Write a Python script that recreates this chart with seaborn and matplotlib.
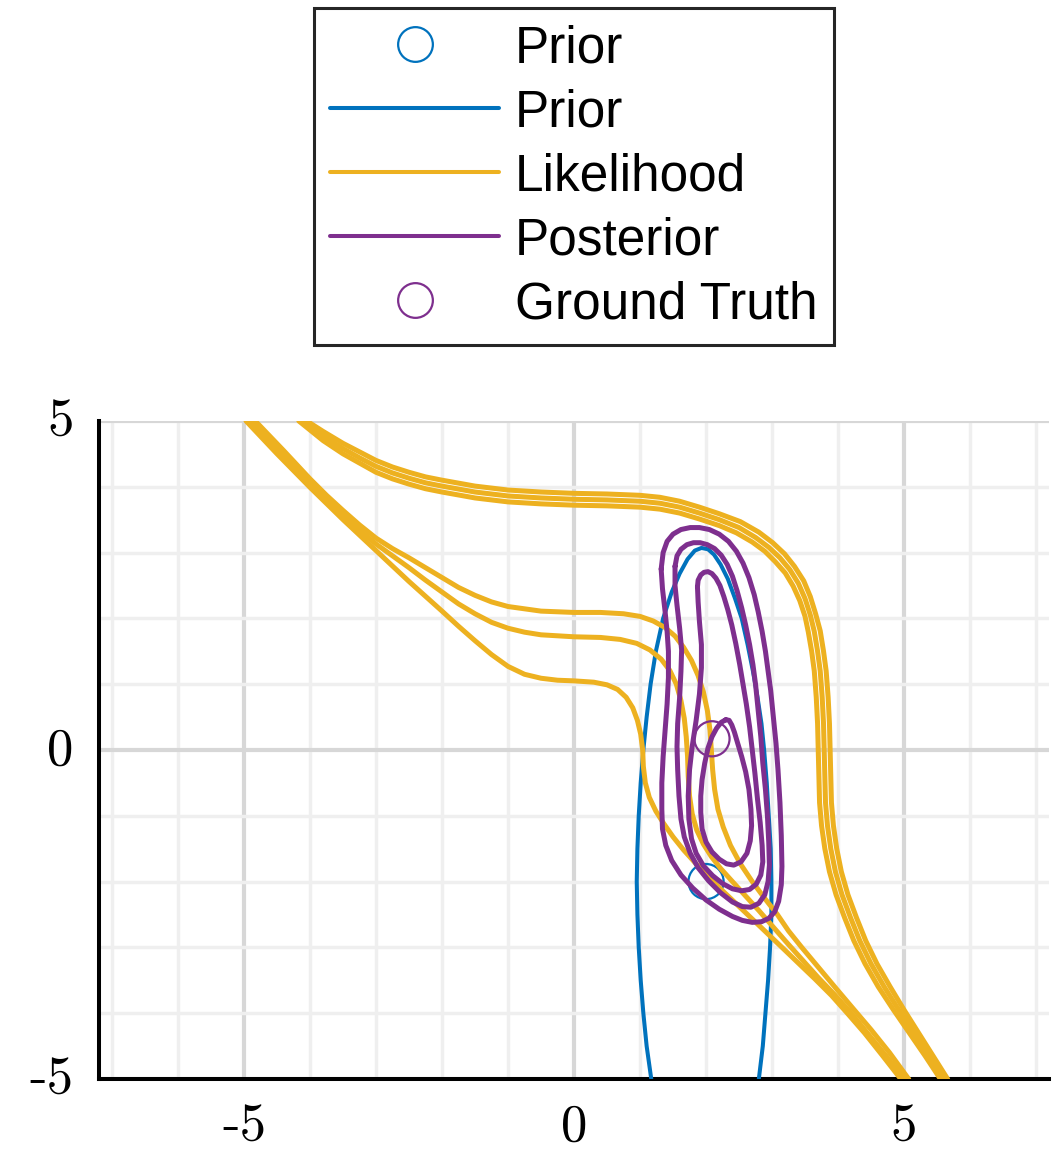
import matplotlib.pyplot as plt
import matplotlib.transforms as mtransforms
import seaborn as sns
from matplotlib.lines import Line2D

# marker positions
prior_mean = (2.0, -2.0)
ground_truth = (2.09, 0.17)

# prior contour (open at the bottom edge)
prior_x = [1.17, 1.1, 1.05, 1.01, 0.98, 0.96, 0.95, 0.96, 0.98, 1.01, 1.05, 1.1, 1.16, 1.24, 1.35,
           1.48, 1.6, 1.72, 1.83, 1.93, 2.03, 2.12, 2.22, 2.33, 2.44, 2.54, 2.63, 2.71, 2.78, 2.84,
           2.88, 2.92, 2.95, 2.98, 2.99, 2.99, 2.97, 2.94, 2.9, 2.86, 2.8]
prior_y = [-5.0, -4.5, -4.0, -3.5, -3.0, -2.5, -2.0, -1.5, -1.0, -0.5, 0.0, 0.5, 1.0, 1.5, 2.0,
           2.4, 2.68, 2.9, 3.03, 3.07, 3.05, 2.97, 2.82, 2.6, 2.3, 2.0, 1.6, 1.2, 0.8, 0.4,
           0.0, -0.5, -1.0, -1.5, -2.0, -2.5, -3.0, -3.5, -4.0, -4.5, -5.0]

# likelihood contours, upper bundle (outer / middle / inner)
lik_a1_x = [-4.05, -3.8, -3.5, -3.25, -3.0, -2.75, -2.5, -2.25, -2.0, -1.5, -1.0, -0.5, 0.0, 0.5,
            1.0, 1.3, 1.6, 1.9, 2.2, 2.52, 2.8, 3.01, 3.19, 3.34, 3.48, 3.58, 3.66, 3.73, 3.78,
            3.82, 3.85, 3.87, 3.88, 3.89, 3.9, 3.93, 3.98, 4.05, 4.15, 4.28, 4.42, 4.59, 4.79,
            5.0, 5.22, 5.44, 5.66]
lik_a1_y = [5.0, 4.84, 4.66, 4.53, 4.4, 4.3, 4.22, 4.15, 4.1, 4.01, 3.95, 3.92, 3.9, 3.89,
            3.87, 3.84, 3.78, 3.69, 3.59, 3.47, 3.31, 3.15, 2.98, 2.79, 2.57, 2.33, 2.07, 1.81, 1.5,
            1.2, 0.8, 0.4, 0.0, -0.4, -0.8, -1.15, -1.5, -1.85, -2.2, -2.55, -2.9, -3.25, -3.6,
            -3.95, -4.3, -4.65, -5.0]
lik_a2_x = [-4.11, -3.8, -3.5, -3.25, -3.0, -2.75, -2.5, -2.25, -2.0, -1.5, -1.0, -0.5, 0.0, 0.5,
            1.0, 1.3, 1.6, 1.9, 2.2, 2.5, 2.75, 2.95, 3.12, 3.27, 3.4, 3.5, 3.58, 3.64, 3.69,
            3.73, 3.76, 3.78, 3.79, 3.8, 3.81, 3.84, 3.89, 3.96, 4.06, 4.19, 4.33, 4.5, 4.7,
            4.92, 5.15, 5.38, 5.6]
lik_a2_y = [5.0, 4.77, 4.58, 4.44, 4.31, 4.21, 4.13, 4.06, 4.01, 3.92, 3.86, 3.83, 3.81, 3.8,
            3.78, 3.75, 3.69, 3.6, 3.5, 3.38, 3.23, 3.08, 2.92, 2.74, 2.53, 2.3, 2.05, 1.8, 1.5,
            1.2, 0.8, 0.4, 0.0, -0.4, -0.8, -1.15, -1.5, -1.85, -2.2, -2.55, -2.9, -3.25, -3.6,
            -3.95, -4.3, -4.65, -5.0]
lik_a3_x = [-4.17, -3.8, -3.5, -3.25, -3.0, -2.75, -2.5, -2.25, -2.0, -1.5, -1.0, -0.5, 0.0, 0.5,
            1.0, 1.3, 1.6, 1.9, 2.2, 2.46, 2.7, 2.89, 3.05, 3.2, 3.32, 3.42, 3.5, 3.55, 3.6,
            3.64, 3.67, 3.69, 3.7, 3.71, 3.72, 3.75, 3.8, 3.87, 3.97, 4.1, 4.24, 4.41, 4.61,
            4.84, 5.08, 5.32, 5.55]
lik_a3_y = [5.0, 4.7, 4.5, 4.36, 4.22, 4.12, 4.04, 3.97, 3.92, 3.83, 3.77, 3.74, 3.72, 3.71,
            3.69, 3.66, 3.6, 3.51, 3.41, 3.3, 3.16, 3.02, 2.86, 2.69, 2.49, 2.27, 2.03, 1.79, 1.5,
            1.2, 0.8, 0.4, 0.0, -0.4, -0.8, -1.15, -1.5, -1.85, -2.2, -2.55, -2.9, -3.25, -3.6,
            -3.95, -4.3, -4.65, -5.0]

# likelihood contours, lower bundle
lik_b1_x = [-4.83, -4.4, -4.0, -3.75, -3.5, -3.25, -3.0, -2.75, -2.5, -2.25, -2.0, -1.75, -1.5,
            -1.25, -1.0, -0.5, 0.0, 0.4, 0.75, 1.0, 1.2, 1.38, 1.53, 1.66, 1.78, 1.88, 1.96, 2.02,
            2.06, 2.08, 2.1, 2.13, 2.18, 2.26, 2.37, 2.52, 2.7, 2.9, 3.08, 3.25, 3.45, 3.7, 3.95,
            4.22, 4.5, 4.78, 5.07]
lik_b1_y = [5.0, 4.55, 4.12, 3.87, 3.64, 3.42, 3.22, 3.06, 2.92, 2.77, 2.62, 2.47, 2.35,
            2.25, 2.18, 2.11, 2.09, 2.09, 2.07, 2.03, 1.96, 1.86, 1.73, 1.56, 1.36, 1.13, 0.88, 0.6,
            0.3, 0.0, -0.3, -0.6, -0.9, -1.17, -1.45, -1.73, -2.0, -2.27, -2.5, -2.75, -3.0, -3.3,
            -3.6, -3.92, -4.25, -4.6, -5.0]
lik_b2_x = [-4.9, -4.45, -4.0, -3.75, -3.5, -3.25, -3.0, -2.75, -2.5, -2.25, -2.0, -1.75, -1.5,
            -1.25, -1.0, -0.75, -0.5, 0.0, 0.4, 0.7, 0.95, 1.15, 1.32, 1.45, 1.55, 1.62, 1.67,
            1.7, 1.72, 1.73, 1.75, 1.79, 1.86, 1.96, 2.08, 2.22, 2.4, 2.6, 2.8, 3.0, 3.2, 3.45,
            3.7, 3.95, 4.2, 4.46, 4.73, 5.0]
lik_b2_y = [5.0, 4.52, 4.05, 3.8, 3.57, 3.34, 3.13, 2.95, 2.77, 2.58, 2.4, 2.22, 2.07,
            1.94, 1.85, 1.79, 1.75, 1.72, 1.71, 1.68, 1.62, 1.52, 1.38, 1.21, 1.0, 0.75, 0.48,
            0.2, -0.1, -0.4, -0.7, -0.97, -1.22, -1.43, -1.62, -1.8, -2.0, -2.22, -2.44, -2.67,
            -2.9, -3.18, -3.46, -3.72, -4.0, -4.32, -4.65, -5.0]
lik_b3_x = [-4.97, -4.5, -4.0, -3.5, -3.0, -2.5, -2.0, -1.75, -1.5, -1.25, -1.0, -0.75, -0.5,
            -0.25, 0.0, 0.3, 0.5, 0.66, 0.79, 0.89, 0.96, 1.01, 1.04, 1.05, 1.08, 1.14, 1.24, 1.36,
            1.5, 1.66, 1.84, 2.03, 2.24, 2.46, 2.68, 2.9, 3.14, 3.4, 3.65, 3.9, 4.14, 4.4, 4.67,
            4.95]
lik_b3_y = [5.0, 4.5, 3.99, 3.5, 3.03, 2.56, 2.11, 1.88, 1.66, 1.45, 1.27, 1.15, 1.09,
            1.06, 1.05, 1.03, 0.99, 0.92, 0.8, 0.64, 0.45, 0.24, 0.0, -0.25, -0.5, -0.72, -0.93,
            -1.12, -1.32, -1.52, -1.72, -1.92, -2.13, -2.34, -2.55, -2.76, -2.99, -3.24, -3.48,
            -3.73, -4.0, -4.3, -4.64, -5.0]

# posterior contours, outermost to innermost (closed)
post1_x = [1.32, 1.35, 1.41, 1.5, 1.62, 1.76, 1.9, 2.05, 2.2, 2.34, 2.46, 2.56, 2.65, 2.73, 2.79,
           2.85, 2.9, 2.94, 2.98, 3.02, 3.06, 3.09, 3.12, 3.14, 3.15, 3.14, 3.1, 3.04, 2.95, 2.84,
           2.7, 2.55, 2.4, 2.2, 2.0, 1.8, 1.62, 1.48, 1.39, 1.34, 1.33, 1.33, 1.35, 1.38, 1.41,
           1.43, 1.43, 1.41, 1.38, 1.34, 1.32]
post1_y = [2.75, 3.0, 3.17, 3.28, 3.35, 3.38, 3.38, 3.35, 3.28, 3.17, 3.02, 2.84, 2.62, 2.36, 2.1,
           1.8, 1.5, 1.2, 0.9, 0.5, 0.1, -0.3, -0.8, -1.3, -1.77, -2.05, -2.3, -2.46, -2.56, -2.61,
           -2.62, -2.59, -2.53, -2.42, -2.28, -2.1, -1.9, -1.68, -1.45, -1.2, -0.9, -0.5, -0.1, 0.3,
           0.7, 1.1, 1.5, 1.8, 2.1, 2.45, 2.75]
post2_x = [1.53, 1.56, 1.62, 1.71, 1.81, 1.91, 2.02, 2.13, 2.23, 2.32, 2.4, 2.47, 2.54, 2.6, 2.66,
           2.71, 2.75, 2.79, 2.83, 2.86, 2.9, 2.93, 2.95, 2.96, 2.94, 2.89, 2.8, 2.68, 2.55, 2.4,
           2.22, 2.04, 1.88, 1.76, 1.67, 1.62, 1.59, 1.57, 1.56, 1.57, 1.6, 1.62, 1.63, 1.6,
           1.56, 1.53, 1.53]
post2_y = [2.79, 2.95, 3.05, 3.12, 3.15, 3.15, 3.12, 3.06, 2.96, 2.82, 2.64, 2.42, 2.16, 1.9, 1.6,
           1.3, 1.0, 0.6, 0.2, -0.2, -0.6, -1.0, -1.4, -1.75, -2.0, -2.2, -2.33, -2.39, -2.38, -2.31,
           -2.17, -1.99, -1.79, -1.57, -1.32, -1.05, -0.7, -0.3, 0.05, 0.4, 0.8, 1.2, 1.52, 1.85,
           2.2, 2.5, 2.79]
post3_x = [1.87, 1.88, 1.92, 1.97, 2.03, 2.09, 2.15, 2.21, 2.27, 2.33, 2.39, 2.45, 2.51, 2.56, 2.61,
           2.66, 2.7, 2.74, 2.78, 2.82, 2.85, 2.86, 2.83, 2.76, 2.66, 2.54, 2.4, 2.25, 2.1, 1.96,
           1.85, 1.78, 1.74, 1.73, 1.75, 1.79, 1.85, 1.9, 1.93, 1.93, 1.9, 1.88, 1.87]
post3_y = [2.48, 2.58, 2.66, 2.7, 2.71, 2.68, 2.61, 2.5, 2.33, 2.13, 1.9, 1.62, 1.3, 1.0, 0.7,
           0.35, 0.0, -0.35, -0.75, -1.1, -1.45, -1.7, -1.9, -2.04, -2.12, -2.14, -2.11, -2.03, -1.91,
           -1.76, -1.57, -1.35, -1.05, -0.7, -0.3, 0.05, 0.45, 0.85, 1.25, 1.6, 1.95, 2.25, 2.48]
post4_x = [2.3, 2.35, 2.39, 2.43, 2.48, 2.54, 2.6, 2.65, 2.68, 2.69, 2.67, 2.62, 2.53, 2.42, 2.31,
           2.2, 2.09, 2.0, 1.94, 1.92, 1.92, 1.94, 1.98, 2.03, 2.09, 2.16, 2.23, 2.3]
post4_y = [0.46, 0.45, 0.38, 0.27, 0.1, -0.1, -0.33, -0.6, -0.9, -1.15, -1.38, -1.57, -1.7, -1.75,
           -1.73, -1.66, -1.55, -1.4, -1.2, -0.95, -0.7, -0.45, -0.2, 0.03, 0.2, 0.33, 0.42, 0.46]

x_ticks = [-5, 0, 5]
y_ticks = [-5, 0, 5]
tick_labels = ["-5", "0", "5"]
legend_labels = ["Prior", "Prior", "Likelihood", "Posterior", "Ground Truth"]

BLUE = "#0072BD"
YELLOW = "#EDB120"
PURPLE = "#7E2F8E"

sns.set_theme(style="white")
plt.rcParams["font.family"] = ["Liberation Sans", "DejaVu Sans"]
plt.rcParams["axes.unicode_minus"] = False
plt.rcParams["text.color"] = "black"
plt.rcParams["xtick.color"] = "black"
plt.rcParams["ytick.color"] = "black"

fig = plt.figure(figsize=(10.56, 11.53), dpi=100)
ax = fig.add_axes([0.0936, 0.0642, 0.9, 0.5707])


def draw(xs, ys, color, lw, z):
    sns.lineplot(x=xs, y=ys, sort=False, estimator=None, color=color,
                 lw=lw, ax=ax, zorder=z, legend=False)


sns.scatterplot(x=[prior_mean[0]], y=[prior_mean[1]], marker="o", s=640,
                facecolor="none", edgecolor=BLUE, linewidth=1.6, ax=ax, zorder=3)
draw(prior_x, prior_y, BLUE, 2.9, 4)
for xs, ys in [(lik_a1_x, lik_a1_y), (lik_a2_x, lik_a2_y), (lik_a3_x, lik_a3_y),
               (lik_b1_x, lik_b1_y), (lik_b2_x, lik_b2_y), (lik_b3_x, lik_b3_y)]:
    draw(xs, ys, YELLOW, 3.6, 5)
for xs, ys in [(post1_x, post1_y), (post2_x, post2_y), (post3_x, post3_y), (post4_x, post4_y)]:
    draw(xs, ys, PURPLE, 3.6, 6)
sns.scatterplot(x=[ground_truth[0]], y=[ground_truth[1]], marker="o", s=640,
                facecolor="none", edgecolor=PURPLE, linewidth=1.6, ax=ax, zorder=7)

ax.set_xlim(-7.2, 7.2)
ax.set_ylim(-5, 5)
ax.set_xticks(x_ticks)
ax.set_yticks(y_ticks)
ax.set_xticks(range(-7, 8), minor=True)
ax.set_yticks(range(-5, 6), minor=True)
ax.set_xticklabels(tick_labels, fontfamily="cmr10", fontsize=38, color="black")
ax.set_yticklabels(tick_labels, fontfamily="cmr10", fontsize=38, color="black")
ax.set_xlabel("")
ax.set_ylabel("")
ax.set_axisbelow(True)
ax.grid(which="major", color="#d7d7d7", lw=3.0)
ax.grid(which="minor", color="#efefef", lw=2.5)
ax.tick_params(which="major", direction="in", length=8.6, width=2.9, color="black")
ax.tick_params(which="minor", length=0)
ax.tick_params(axis="x", pad=18)
ax.tick_params(axis="y", pad=18)
for side in ["top", "right"]:
    ax.spines[side].set_visible(False)
for side in ["left", "bottom"]:
    ax.spines[side].set_color("black")
    ax.spines[side].set_linewidth(2.9)

# nudge y tick labels up a few pixels so the digits sit centred on the ticks
lift = mtransforms.ScaledTranslation(0, 4 / 100, fig.dpi_scale_trans)
for lbl in ax.get_yticklabels():
    lbl.set_transform(lbl.get_transform() + lift)

handles = [
    Line2D([], [], ls="none", marker="o", ms=25, mfc="none", mec=BLUE, mew=1.6),
    Line2D([], [], color=BLUE, lw=2.9),
    Line2D([], [], color=YELLOW, lw=2.9),
    Line2D([], [], color=PURPLE, lw=2.9),
    Line2D([], [], ls="none", marker="o", ms=25, mfc="none", mec=PURPLE, mew=1.6),
]
leg = fig.legend(handles, legend_labels, loc="upper center",
                 bbox_to_anchor=(574 / 1056, 1 - 8 / 1153), fontsize=37,
                 handlelength=3.29, handletextpad=0.31, borderpad=0.32,
                 labelspacing=0.29, borderaxespad=0, fancybox=False,
                 framealpha=1, edgecolor="#262626", labelcolor="black")
leg.get_frame().set_linewidth(2.2)

fig.savefig("out.png", dpi=100)
